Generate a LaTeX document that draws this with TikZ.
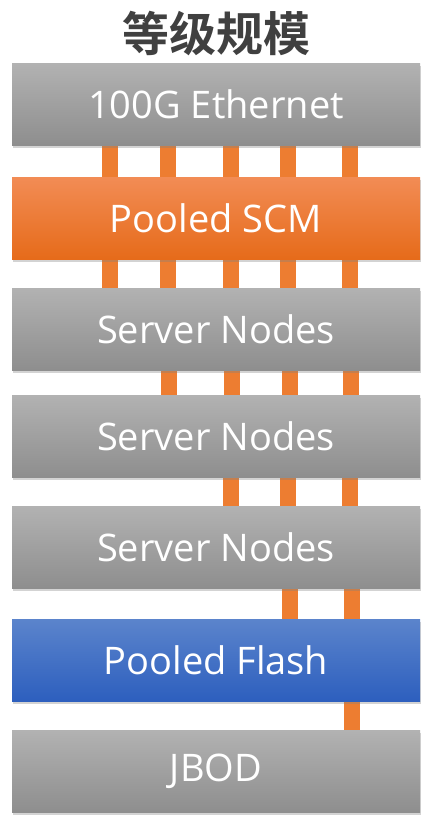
\documentclass[tikz,border=0pt]{standalone}
\usepackage{fontspec}
\setmainfont{Open Sans}
\newfontfamily\cjkbold[BoldFont=*]{Noto Sans CJK SC Bold}
\usetikzlibrary{shadows,backgrounds}

\definecolor{titlegray}{HTML}{404040}
\definecolor{graytop}{HTML}{B2B2B2}
\definecolor{graybot}{HTML}{8E8E8E}
\definecolor{orangetop}{HTML}{F28C55}
\definecolor{orangebot}{HTML}{E66B1A}
\definecolor{bluetop}{HTML}{5B84CC}
\definecolor{bluebot}{HTML}{2D5FBE}
\definecolor{link}{HTML}{ED7D31}

\tikzset{
  layer/.style={rectangle, minimum width=408pt, minimum height=82pt,
    inner sep=0pt, text=white, font=\fontsize{38}{44}\selectfont,
    drop shadow={shadow xshift=1pt, shadow yshift=-3pt, opacity=0.35}},
  graylayer/.style={layer, top color=graytop, bottom color=graybot},
  orangelayer/.style={layer, top color=orangetop, bottom color=orangebot},
  bluelayer/.style={layer, top color=bluetop, bottom color=bluebot},
  link/.style={draw=link, line width=16pt}
}

\begin{document}
\begin{tikzpicture}[x=1pt, y=-1pt]
  \useasboundingbox (0,0) rectangle (421,815);

  \node[text=titlegray, font=\cjkbold\fontsize{47}{52}\selectfont] (title) at (216,34) {等级规模};

  \node[graylayer]   (eth)   at (216,104) {100G Ethernet};
  \node[orangelayer] (scm)   at (216,218) {Pooled SCM};
  \node[graylayer]   (srv1)  at (216,329) {Server Nodes};
  \node[graylayer]   (srv2)  at (216,436) {Server Nodes};
  \node[graylayer]   (srv3)  at (216,547) {Server Nodes};
  \node[bluelayer]   (flash) at (216,660) {Pooled Flash};
  \node[graylayer]   (jbod)  at (216,771) {JBOD};

  \begin{pgfonlayer}{background}
    % Ethernet to SCM, SCM to first server row
    \foreach \x in {110,168,231,288,350} {
      \draw[link] (eth.south -| \x,0) -- (scm.north -| \x,0);
      \draw[link] (scm.south -| \x,0) -- (srv1.north -| \x,0);
    }
    \foreach \x in {169,232,290,351}
      \draw[link] (srv1.south -| \x,0) -- (srv2.north -| \x,0);
    \foreach \x in {231,288,350}
      \draw[link] (srv2.south -| \x,0) -- (srv3.north -| \x,0);
    \foreach \x in {290,352}
      \draw[link] (srv3.south -| \x,0) -- (flash.north -| \x,0);
    \draw[link] (flash.south -| 352,0) -- (jbod.north -| 352,0);
  \end{pgfonlayer}
\end{tikzpicture}
\end{document}
